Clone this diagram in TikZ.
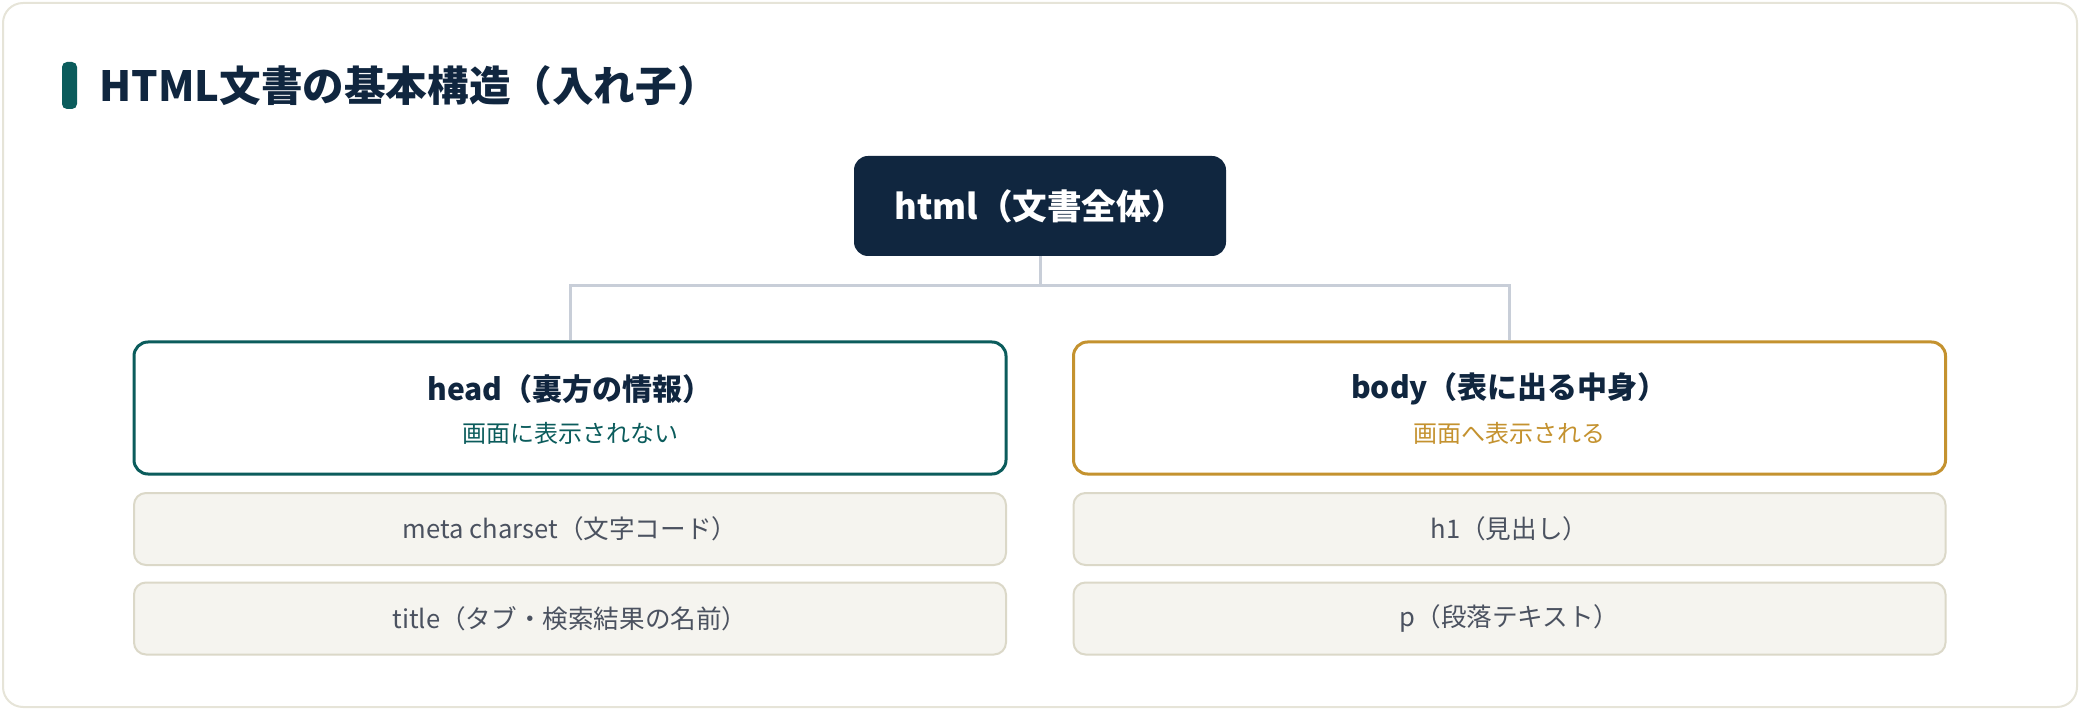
\documentclass[tikz,border=0pt]{standalone}
\usepackage{fontspec}
\setmainfont{Noto Sans CJK JP}
\definecolor{navy}{HTML}{10263F}
\definecolor{teal}{HTML}{0B5C5C}
\definecolor{gold}{HTML}{C4922F}
\definecolor{conn}{HTML}{C8CED8}
\definecolor{chfill}{HTML}{F5F4EF}
\definecolor{chborder}{HTML}{DBD8C8}
\definecolor{chtext}{HTML}{4B5260}
\definecolor{cardborder}{HTML}{E6E4D8}
\tikzset{
  card/.style={draw=cardborder,line width=1pt,fill=white,rounded corners=10pt},
  htmlbox/.style={fill=navy,rounded corners=7pt,minimum width=186pt,minimum height=50pt,inner sep=0pt},
  parentbox/.style={draw=#1,line width=1.5pt,fill=white,rounded corners=7pt,minimum width=436pt,minimum height=66pt,inner sep=0pt},
  childbox/.style={draw=chborder,line width=1pt,fill=chfill,rounded corners=6pt,minimum width=436pt,minimum height=36pt,inner sep=0pt,font=\fontsize{12.8pt}{15pt}\selectfont,text=chtext},
  ptitle/.style={font=\bfseries\fontsize{15pt}{18pt}\selectfont,text=navy,inner sep=0pt},
  psub/.style={font=\fontsize{12pt}{14pt}\selectfont,text=#1,inner sep=0pt},
  connline/.style={draw=conn,line width=1.5pt},
}
\begin{document}
\begin{tikzpicture}[x=0.5pt,y=-0.5pt]
\useasboundingbox (0,0) rectangle (2080,710);
\draw[card] (3,3) rectangle (2077,707);
\fill[teal,rounded corners=2.5pt] (62,62) rectangle (77,109);
\node[anchor=west,inner sep=0pt,text=navy,font=\bfseries\fontsize{20.8pt}{24pt}\selectfont] (title) at (99,86) {HTML文書の基本構造（入れ子）};
% connectors
\coordinate (j) at (1040,286);
\node[parentbox=teal] (head) at (570,408) {};
\node[parentbox=gold] (body) at (1509.5,408) {};
\draw[connline] (1040,250) -- (j);
\draw[connline] (head.north) |- (j) -| (body.north);
\node[htmlbox] (html) at (1040,206) {};
\node[text=white,font=\bfseries\fontsize{17.3pt}{20pt}\selectfont,inner sep=0pt] (htmlT) at (html) {html（文書全体）};
\node[ptitle] (headT) at (570,389) {head（裏方の情報）};
\node[psub=teal] (headS) at (570,433) {画面に表示されない};
\node[ptitle] (bodyT) at (1509.5,389) {body（表に出る中身）};
\node[psub=gold] (bodyS) at (1509.5,433) {画面へ表示される};
\node[childbox] (meta) at (570,529) {meta charset（文字コード）};
\node[childbox] (ttl) at (570,618.5) {title（タブ・検索結果の名前）};
\node[childbox] (h1) at (1509.5,529) {h1（見出し）};
\node[childbox] (p) at (1509.5,618.5) {p（段落テキスト）};
\end{tikzpicture}
\end{document}
